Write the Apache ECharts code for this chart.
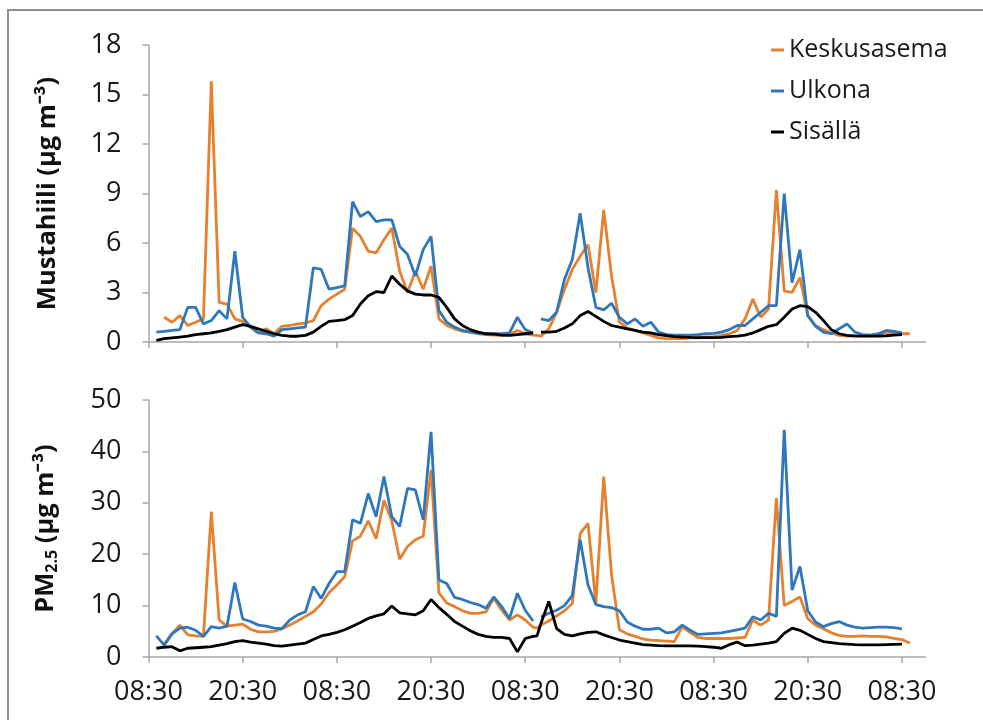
<!DOCTYPE html>
<html><head><meta charset="utf-8">
<script src="https://cdn.jsdelivr.net/npm/echarts@6/dist/echarts.min.js"></script>
<style>html,body{margin:0;background:#fff}#c{width:983px;height:720px}</style>
</head><body><div id="c"></div>
<script>
// hours since the first 08:30 tick
const hours = [1,2,3,4,5,6,7,8,9,10,11,12,13,14,15,16,17,18,19,20,21,22,23,24,25,26,27,28,29,30,31,32,33,34,35,36,37,38,39,40,41,42,43,44,45,46,47,48,49,49.5,50,51,52,53,54,55,56,57,58,59,60,61,62,63,64,65,66,67,68,69,70,71,72,73,74,75,76,77,78,79,80,81,82,83,84,85,86,87,88,89,90,91,92,93,94,95,96,97];
const xTickValues = [0,12,24,36,48,60,72,84,96];
const xTickLabels = ['08:30','20:30','08:30','20:30','08:30','20:30','08:30','20:30','08:30'];
const seriesNames = ['Keskusasema','Ulkona','Sisällä'];

// Mustahiili (µg m-3)
const bcKeskusasema = [null,1.5,1.2,1.6,1.0,1.2,1.4,15.8,2.4,2.3,
 1.4,1.25,0.9,0.55,0.8,0.5,0.95,1.0,1.1,1.15,
 1.3,2.2,2.6,2.9,3.2,6.9,6.4,5.5,5.4,6.2,
 6.9,4.3,3.0,4.3,3.2,4.6,1.4,1.0,0.8,0.65,
 0.6,0.5,0.45,0.42,0.4,0.45,0.7,0.5,0.42,
 0.4,
 0.35,0.8,1.8,3.2,4.4,5.2,5.9,3.0,8.0,4.0,
 1.2,0.85,0.7,0.55,0.4,0.25,0.2,0.2,0.2,0.25,
 0.25,0.3,0.32,0.4,0.5,0.7,1.4,2.6,1.5,2.0,
 9.2,3.1,3.0,3.9,1.6,1.0,0.75,0.55,0.4,0.36,
 0.36,0.38,0.4,0.45,0.6,0.55,0.5,0.5];
const bcUlkona = [0.6,0.65,0.7,0.75,2.1,2.1,1.1,1.3,1.9,1.4,
 5.5,1.5,0.9,0.55,0.5,0.35,0.75,0.8,0.85,0.9,
 4.5,4.4,3.2,3.3,3.4,8.5,7.6,7.9,7.3,7.4,
 7.4,5.8,5.3,4.0,5.6,6.4,1.9,1.2,0.9,0.7,
 0.6,0.52,0.5,0.5,0.5,0.55,1.5,0.75,0.55,
 null,
 1.4,1.3,1.8,3.8,5.0,7.8,4.5,2.1,1.95,2.35,
 1.5,1.1,1.4,0.95,1.2,0.6,0.45,0.42,0.42,0.42,
 0.45,0.5,0.52,0.6,0.75,1.0,1.0,1.4,1.8,2.2,
 2.2,9.0,3.6,5.6,1.6,0.95,0.6,0.5,0.8,1.1,
 0.6,0.45,0.42,0.5,0.7,0.65,0.55,null];
const bcSisalla = [0.1,0.2,0.25,0.3,0.35,0.45,0.5,0.55,0.65,0.75,
 0.9,1.05,0.95,0.8,0.65,0.5,0.4,0.35,0.35,0.4,
 0.6,0.95,1.25,1.3,1.35,1.6,2.3,2.8,3.05,3.0,
 4.0,3.5,3.1,2.9,2.85,2.85,2.7,2.1,1.4,1.0,
 0.75,0.6,0.5,0.48,0.42,0.4,0.45,0.5,0.55,
 null,
 0.6,0.6,0.65,0.85,1.1,1.6,1.85,1.55,1.25,1.0,
 0.9,0.8,0.7,0.6,0.55,0.45,0.38,0.32,0.3,0.28,
 0.27,0.26,0.26,0.28,0.32,0.36,0.42,0.55,0.75,0.95,
 1.05,1.5,2.0,2.2,2.15,1.8,1.3,0.75,0.5,0.4,
 0.37,0.36,0.36,0.36,0.38,0.42,0.45,null];

// PM2.5 (µg m-3)
const pmKeskusasema = [null,2.5,4.6,6.2,4.3,4.1,4.0,28.3,7.2,6.0,
 6.2,6.4,5.4,4.9,4.9,5.0,5.5,6.2,7.0,7.9,
 8.8,10.3,12.5,14.0,15.6,22.6,23.5,26.5,23.0,30.5,
 26.5,19.0,21.5,22.8,23.5,36.4,12.5,10.5,9.8,9.0,
 8.5,8.5,8.8,11.4,9.1,7.2,8.2,7.2,5.8,
 5.6,
 6.2,7.0,8.0,9.0,10.4,24.0,26.0,10.4,35.1,16.0,
 5.3,4.5,4.0,3.5,3.3,3.2,3.1,3.0,5.9,4.8,
 3.8,3.6,3.6,3.6,3.6,3.7,3.8,7.2,6.2,7.2,
 30.9,10.0,10.8,11.7,7.5,6.2,5.5,4.7,4.2,4.0,
 4.0,4.1,4.0,4.0,3.9,3.6,3.4,2.7];
const pmUlkona = [4.1,2.3,4.5,5.6,5.8,5.2,4.0,5.9,5.6,6.0,
 14.5,7.4,6.9,6.2,6.0,5.6,5.5,7.2,8.2,8.8,
 13.7,11.4,14.3,16.6,16.6,26.7,26.0,31.8,27.3,35.1,
 27.3,25.4,32.8,32.5,26.7,43.8,15.0,14.3,11.6,11.2,
 10.6,10.2,9.5,11.7,9.8,7.5,12.4,9.1,7.0,
 null,
 7.8,8.5,9.1,10.0,12.0,22.8,14.0,10.2,9.8,9.6,
 9.0,6.8,6.0,5.4,5.4,5.6,4.7,4.9,6.2,5.2,
 4.4,4.5,4.6,4.7,5.0,5.3,5.6,7.8,7.2,8.5,
 7.9,44.2,13.0,17.6,9.0,6.8,5.9,6.5,6.9,6.2,
 5.8,5.6,5.7,5.8,5.8,5.7,5.45,null];
const pmSisalla = [1.7,1.9,2.0,1.2,1.7,1.8,1.9,2.0,2.3,2.6,
 3.0,3.2,2.9,2.7,2.5,2.2,2.1,2.3,2.5,2.7,
 3.4,4.1,4.4,4.8,5.3,6.0,6.7,7.5,8.0,8.4,
 9.9,8.6,8.4,8.2,9.0,11.2,9.6,8.3,6.9,6.0,
 5.1,4.4,4.0,3.8,3.8,3.6,1.0,3.6,4.0,
 4.1,
 6.5,10.8,5.5,4.4,4.1,4.5,4.8,4.9,4.3,3.8,
 3.3,3.0,2.7,2.4,2.3,2.2,2.15,2.15,2.15,2.15,
 2.1,2.0,1.9,1.7,2.4,2.9,2.2,2.3,2.5,2.7,
 3.0,4.6,5.6,5.2,4.4,3.6,3.0,2.8,2.6,2.5,
 2.4,2.35,2.35,2.35,2.4,2.45,2.5,null];

const colors = ['#E5802F', '#2F77BD', '#000000'];
const FONT = 'Open Sans';
const axisGrey = '#a6a6a6';

function pairs(vals){ return hours.map((h,i)=>[h, vals[i]]); }
function xAxis(idx, showLabels){
  return {
    type:'value', gridIndex:idx, min:0, max:99,
    axisLine:{show:true, lineStyle:{color:axisGrey, width:1.5}},
    axisTick:{show:true, length:6, lineStyle:{color:axisGrey, width:1.5}, customValues:xTickValues},
    axisLabel:{show:showLabels, customValues:xTickValues, margin:22,
      formatter:(v)=>{const k=xTickValues.indexOf(v); return k<0?'':xTickLabels[k];},
      fontFamily:FONT, fontSize:27, color:'#1a1a1a'},
    splitLine:{show:false}
  };
}
function yAxis(idx, max, interval, name, rich){
  return {
    type:'value', gridIndex:idx, min:0, max:max, interval:interval,
    axisLine:{show:true, lineStyle:{color:axisGrey, width:1.5}},
    axisTick:{show:true, length:6, lineStyle:{color:axisGrey, width:1.5}},
    axisLabel:{fontFamily:FONT, fontSize:27, color:'#1a1a1a', margin:27},
    splitLine:{show:false},
    name:name, nameLocation:'middle', nameGap:88, nameRotate:90,
    nameTextStyle:{fontFamily:FONT, fontSize:25.5, fontWeight:'bold', color:'#111', rich:rich}
  };
}
function line(name, vals, idx, color){
  return {name:name, type:'line', xAxisIndex:idx, yAxisIndex:idx, data:pairs(vals),
    symbol:'none', lineStyle:{color:color, width:2.8}, itemStyle:{color:color},
    connectNulls:false, animation:false};
}

const chart = echarts.init(document.getElementById('c'), null, {renderer:'canvas'});
chart.setOption({
  backgroundColor:'#ffffff',
  animation:false,
  graphic:[{type:'rect', shape:{x:8, y:10, width:1000, height:800},
    style:{fill:'none', stroke:'#8f8f8f', lineWidth:2}, silent:true}],
  legend:{
    data:seriesNames, orient:'vertical', left:766, top:30,
    icon:'rect', itemWidth:13, itemHeight:3, itemGap:11,
    textStyle:{fontFamily:FONT, fontSize:25, color:'#1a1a1a', lineHeight:30}
  },
  grid:[
    {left:148.5, width:777, top:45, height:297},
    {left:148.5, width:777, top:400, height:257}
  ],
  xAxis:[xAxis(0,false), xAxis(1,true)],
  yAxis:[
    yAxis(0, 18, 3, 'Mustahiili (µg m⁻³)'),
    yAxis(1, 50, 10, '{a|PM}{s|2.5}{a| (µg m⁻³)}', {
      a:{fontFamily:FONT, fontSize:25.5, fontWeight:'bold', color:'#111', lineHeight:29},
      s:{fontFamily:FONT, fontSize:16, fontWeight:'bold', color:'#111', verticalAlign:'bottom', padding:[9,0,0,0]}
    })
  ],
  series:[
    line(seriesNames[0], bcKeskusasema, 0, colors[0]),
    line(seriesNames[1], bcUlkona, 0, colors[1]),
    line(seriesNames[2], bcSisalla, 0, colors[2]),
    line(seriesNames[0], pmKeskusasema, 1, colors[0]),
    line(seriesNames[1], pmUlkona, 1, colors[1]),
    line(seriesNames[2], pmSisalla, 1, colors[2])
  ]
});
</script></body></html>
